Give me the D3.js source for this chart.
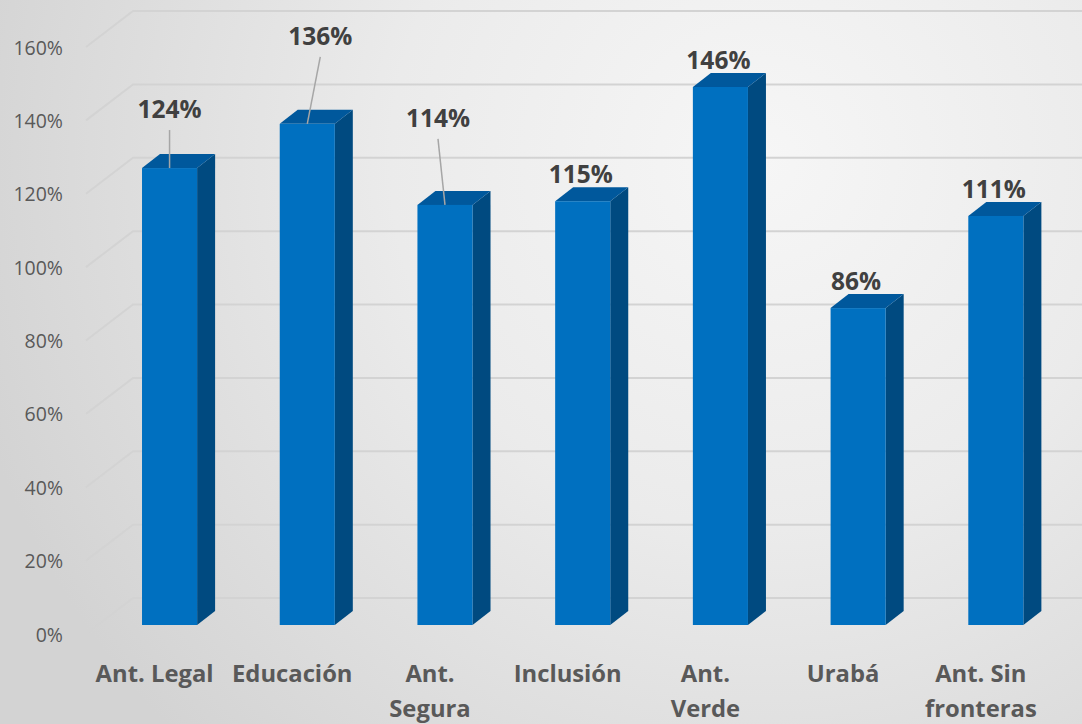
<!DOCTYPE html>
<html>
<head>
<meta charset="utf-8">
<script src="https://cdn.jsdelivr.net/npm/d3@7"></script>
<style>
  html, body { margin: 0; padding: 0; }
  body { width: 1082px; height: 724px; overflow: hidden; }
  svg { display: block; }
</style>
</head>
<body>
<svg id="chart" width="1082" height="724"></svg>
<script>
// ---- data ----
const categories = [["Ant. Legal"], ["Educación"], ["Ant.", "Segura"], ["Inclusión"], ["Ant.", "Verde"], ["Urabá"], ["Ant. Sin", "fronteras"]];
const values = [1.24, 1.36, 1.14, 1.15, 1.46, 0.86, 1.11];
const valueLabels = ["124%", "136%", "114%", "115%", "146%", "86%", "111%"];
const yTicks = [0, 0.2, 0.4, 0.6, 0.8, 1.0, 1.2, 1.4, 1.6];
// manually placed data labels (offset from bar top), null = default above bar
const labelMoves = [[0, -50], [13, -79], [-7, -78], null, null, null, null];

const W = 1082, H = 724;
const svg = d3.select("#chart");
const defs = svg.append("defs");

// background
const rg = defs.append("radialGradient").attr("id", "bg")
  .attr("gradientUnits", "userSpaceOnUse")
  .attr("cx", 760).attr("cy", 160).attr("r", 820);
rg.append("stop").attr("offset", 0).attr("stop-color", "#f6f6f6");
rg.append("stop").attr("offset", 0.45).attr("stop-color", "#ebebeb");
rg.append("stop").attr("offset", 1).attr("stop-color", "#d3d3d3");
svg.append("rect").attr("width", W).attr("height", H).attr("fill", "url(#bg)");

// scales
const x = d3.scaleBand().domain(d3.range(values.length))
  .range([100.7, 1064.7]).paddingInner(0.6).paddingOuter(0.3);
const yAxis = d3.scaleLinear().domain([0, 1.6]).range([634, 47]);
const yBar = d3.scaleLinear().domain([0, 1.6]).range([625, 625 - 1.6 * 368.5]);

const depthX = 18, depthY = 14;
const backDX = 47, backDY = 36;
const axisX0 = 86;

// gridlines (3D: side wall slant + back wall horizontal)
const grid = svg.append("g");
yTicks.forEach(t => {
  const yf = yAxis(t);
  grid.append("path")
    .attr("d", `M${axisX0},${yf}L${axisX0 + backDX},${yf - backDY}L${W},${yf - backDY}`)
    .attr("fill", "none").attr("stroke", "#d3d3d3").attr("stroke-width", 2);
});

// y tick labels
svg.append("g").selectAll("text").data(yTicks).join("text")
  .attr("x", 63).attr("y", d => yAxis(d))
  .attr("text-anchor", "end").attr("dominant-baseline", "central")
  .attr("font-family", "'Open Sans', sans-serif").attr("font-size", 19.5)
  .attr("fill", "#595959")
  .text(d => d3.format(".0%")(d));

// bars
const bars = svg.append("g").selectAll("g").data(values).join("g");
bars.each(function(v, i) {
  const g = d3.select(this);
  const x0 = x(i), bw = x.bandwidth(), x1 = x0 + bw;
  const yt = yBar(v), yb = yBar(0);
  // side face
  g.append("path")
    .attr("d", `M${x1},${yt}L${x1 + depthX},${yt - depthY}L${x1 + depthX},${yb - depthY}L${x1},${yb}Z`)
    .attr("fill", "#004a80");
  // top face
  g.append("path")
    .attr("d", `M${x0},${yt}L${x0 + depthX},${yt - depthY}L${x1 + depthX},${yt - depthY}L${x1},${yt}Z`)
    .attr("fill", "#00589c");
  // front face
  g.append("rect").attr("x", x0).attr("y", yt).attr("width", bw).attr("height", yb - yt)
    .attr("fill", "#0070c0");
});

// data labels + leader lines
const lab = svg.append("g");
values.forEach((v, i) => {
  const cx = x(i) + x.bandwidth() / 2;
  const yt = yBar(v);
  let lx, ly;
  if (labelMoves[i]) {
    lx = cx + labelMoves[i][0];
    ly = yt + labelMoves[i][1];
    lab.append("line")
      .attr("x1", lx).attr("y1", ly + 12).attr("x2", cx).attr("y2", yt)
      .attr("stroke", "#a6a6a6").attr("stroke-width", 1.5);
  } else {
    lx = cx - 2;
    ly = yt - 18;
  }
  lab.append("text").attr("x", lx).attr("y", ly)
    .attr("text-anchor", "middle")
    .attr("font-family", "'Open Sans', sans-serif").attr("font-weight", "bold")
    .attr("font-size", 24.5).attr("fill", "#404040")
    .text(valueLabels[i]);
});

// category labels
const cat = svg.append("g");
categories.forEach((lines, i) => {
  const cx = x(i) + x.bandwidth() / 2 - 15;
  const t = cat.append("text")
    .attr("text-anchor", "middle")
    .attr("font-family", "'Open Sans', sans-serif").attr("font-weight", "bold")
    .attr("font-size", 23.8).attr("fill", "#595959");
  lines.forEach((s, k) => {
    t.append("tspan").attr("x", cx).attr("y", 682 + k * 35).text(s);
  });
});
</script>
</body>
</html>
